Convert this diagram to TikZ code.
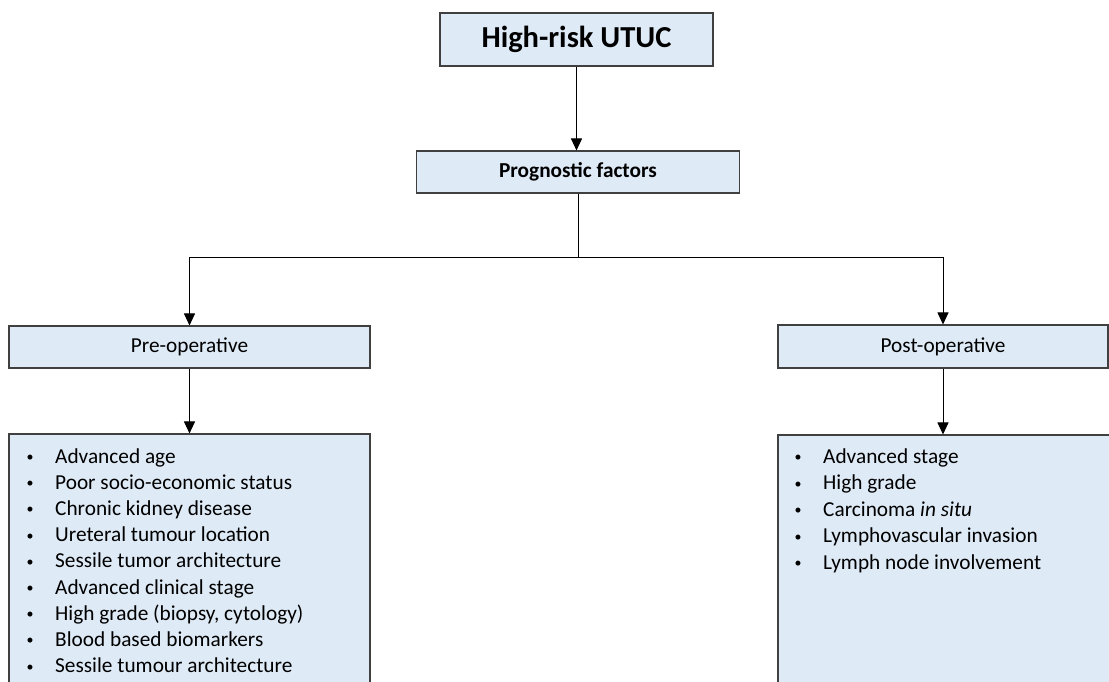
\documentclass[tikz,border=0pt]{standalone}
\usepackage{fontspec}
\setmainfont{Carlito}
\usetikzlibrary{arrows.meta,calc}
\definecolor{boxfill}{RGB}{222,234,246}
\definecolor{boxline}{RGB}{64,64,64}
\newcommand{\bulletmark}{\makebox[8pt]{\raisebox{1.5pt}{\fontsize{14}{14}\selectfont\textbullet}}}
\tikzset{%
        >={Triangle[width=11pt,length=12pt]}
}
\tikzstyle{box}=[
    draw = boxline,
    fill = boxfill,
    line width = 1.1pt,
    inner sep = 0pt,
    font = \fontsize{21.3}{26}\selectfont
]
\tikzstyle{link}=[
    draw = black,
    line width = 1pt
]
\tikzstyle{item}=[
    anchor = base west,
    inner sep = 0pt,
    font = \fontsize{21.3}{26.2}\selectfont
]

\begin{document}
\begin{tikzpicture}[x=1pt, y=-1pt]
            \useasboundingbox (0,0) rectangle (1109,681);
            \clip (0,0) rectangle (1109,681);
            \node[box, minimum width=273pt, minimum height=53pt, font=\bfseries\fontsize{30.5}{36}\selectfont] (risk) at (576.5,39.5) {High-risk UTUC};
            \node[box, minimum width=323pt, minimum height=42pt, font=\bfseries\fontsize{21.3}{26}\selectfont] (factors) at (578,172) {Prognostic factors};
            \node[box, minimum width=361pt, minimum height=42pt] (pre) at (189.5,347) {Pre-operative};
            \node[box, minimum width=330pt, minimum height=43pt] (post) at (943,346.5) {Post-operative};
            \node[box, minimum width=361pt, minimum height=266pt] (prelist) at (189.5,567) {};
            \node[box, minimum width=334pt, minimum height=266pt] (postlist) at (945,568) {};
            \draw[link, ->] (risk.south) -- (risk.south |- factors.north);
            \draw[link] (factors.south) -- ++(0,64) coordinate (split);
            \draw[link, ->] (split) -| (pre.north);
            \draw[link, ->] (split) -| (post.north);
            \draw[link, ->] (pre.south) -- (prelist.north);
            \draw[link, ->] (post.south) -- (post.south |- postlist.north);
            \foreach \txt [count=\i] in {Advanced age, Poor socio-economic status, Chronic kidney disease, Ureteral tumour location, Sessile tumor architecture, Advanced clinical stage, {High grade (biopsy, cytology)}, Blood based biomarkers, Sessile tumour architecture}
                \node[item] (pre item \i) at (26,{463+26.2*(\i-1)}) {\makebox[29pt][l]{\bulletmark}\txt};
            \foreach \txt [count=\i] in {Advanced stage, High grade, Carcinoma \textit{in situ}, Lymphovascular invasion, Lymph node involvement}
                \node[item] (post item \i) at (794,{463+26.6*(\i-1)}) {\makebox[29pt][l]{\bulletmark}\txt};
        \end{tikzpicture}
\end{document}
